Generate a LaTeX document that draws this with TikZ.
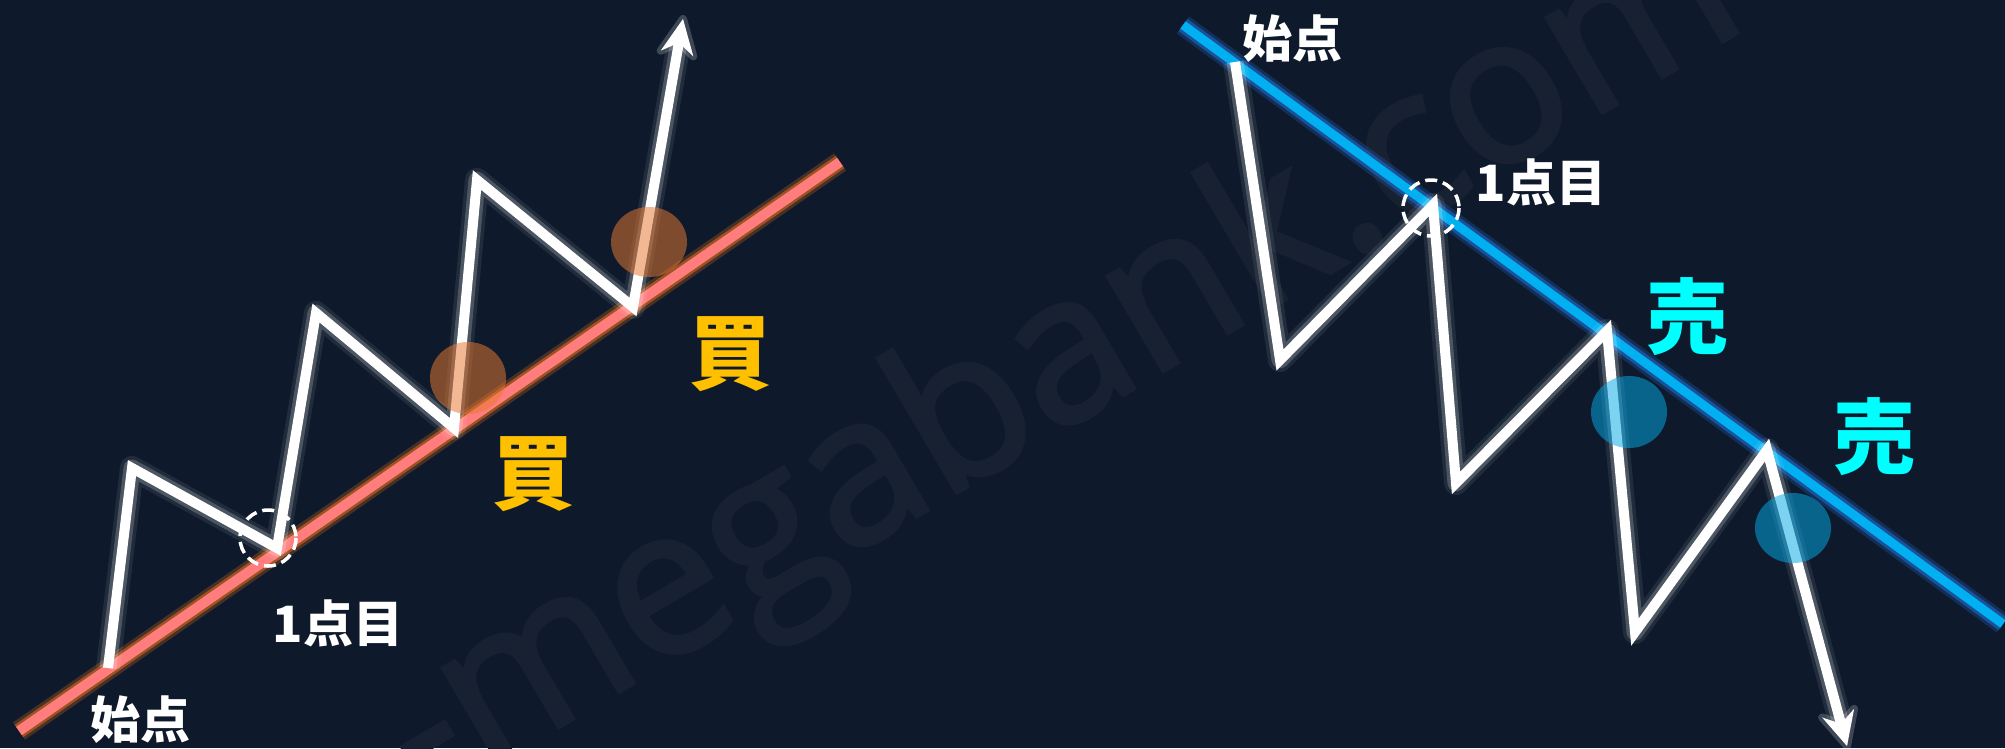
\documentclass[tikz,border=0pt]{standalone}
\usepackage{fontspec}
\newfontfamily\jp{Noto Sans CJK JP}
\newfontfamily\wmfont{Open Sans}[FakeBold=2]
\usetikzlibrary{calc}
\definecolor{bg}{RGB}{14,26,43}
\definecolor{wmark}{RGB}{23,33,49}
\definecolor{upline}{RGB}{255,125,125}
\definecolor{upglow}{RGB}{205,100,30}
\definecolor{dnline}{RGB}{0,176,240}
\definecolor{dnglow}{RGB}{30,100,190}
\definecolor{buy}{RGB}{255,192,0}
\definecolor{sell}{RGB}{0,255,255}
\definecolor{buydot}{RGB}{231,120,49}
\definecolor{selldot}{RGB}{6,168,230}
\begin{document}
\begin{tikzpicture}[x=1pt,y=-1pt,
  glowwide/.style={line width=24pt, white, opacity=0.08, line join=round},
  glownarrow/.style={line width=17pt, white, opacity=0.20, line join=round},
  zig/.style={line width=10pt, white, line join=miter, miter limit=12},
  headfill/.style={fill=white},
  trendglowwide/.style={line width=21pt, opacity=0.30},
  trendglow/.style={line width=15pt, opacity=0.65},
  trend/.style={line width=10pt},
  marker/.style={white, line width=3.5pt, dash pattern=on 12pt off 6pt},
  buydotstyle/.style={fill=buydot, fill opacity=0.52},
  selldotstyle/.style={fill=selldot, fill opacity=0.52},
  lbl/.style={text=white, inner sep=0pt, font=\jp\bfseries\fontsize{50}{50}\selectfont},
  buylbl/.style={text=buy, inner sep=0pt, font=\jp\bfseries\fontsize{82}{82}\selectfont},
  selllbl/.style={text=sell, inner sep=0pt, font=\jp\bfseries\fontsize{82}{82}\selectfont},
  wmstyle/.style={text=wmark, inner sep=0pt, rotate=30.5, font=\wmfont\fontsize{205}{205}\selectfont}
]
\fill[bg] (0,0) rectangle (2005,748);
\useasboundingbox (0,0) rectangle (2005,748);
\begin{scope}
  \clip (0,0) rectangle (2005,748);
  \node[wmstyle] (wm) at (1062,369) {-megabank.com};
\end{scope}

% ---------------- left: rising trend ----------------
\coordinate (RA) at (19,731);
\coordinate (RB) at (840,162);
\coordinate (L0) at (108,668);
\coordinate (L1) at (132,468);
\coordinate (L2) at (277,548);
\coordinate (L3) at (316,313);
\coordinate (L4) at (454,428);
\coordinate (L5) at (477,180);
\coordinate (L6) at (633,307);
\coordinate (LT) at (683,19);
\coordinate (LB) at ($(LT)!35pt!(L6)$);
\coordinate (LN) at ($(LT)!24pt!(L6)$);
\coordinate (LW1) at ($(LB)!16.5pt!90:(LT)$);
\coordinate (LW2) at ($(LB)!16.5pt!-90:(LT)$);

\draw[trendglowwide, upglow] (RA) -- (RB);
\draw[trendglow, upglow] (RA) -- (RB);
\draw[trend, upline] (RA) -- (RB);

\draw[glowwide] (L0) -- (L1) -- (L2) -- (L3) -- (L4) -- (L5) -- (L6) -- (LN);
\draw[glownarrow] (L0) -- (L1) -- (L2) -- (L3) -- (L4) -- (L5) -- (L6) -- (LN);
\draw[glownarrow, line width=8pt, fill=white, fill opacity=0.2] (LT) -- (LW1) -- (LN) -- (LW2) -- cycle;
\draw[zig] (L0) -- (L1) -- (L2) -- (L3) -- (L4) -- (L5) -- (L6) -- (LN);
\fill[headfill] (LT) -- (LW1) -- (LN) -- (LW2) -- cycle;

\fill[buydotstyle] (468,378) ellipse [x radius=38, y radius=36];
\fill[buydotstyle] (649,242) ellipse [x radius=38, y radius=35];
\draw[marker] (268,538) circle [radius=28];

\node[lbl] (ls) at (140,720) {始点};
\node[lbl] (l1) at (338,623) {1点目};
\node[buylbl] (b1) at (533,474) {買};
\node[buylbl] (b2) at (730,354) {買};

% ---------------- right: falling trend ----------------
\coordinate (BA) at (1183,25);
\coordinate (BB) at (2003,624);
\coordinate (R0) at (1235,62);
\coordinate (R1) at (1280,360);
\coordinate (R2) at (1433,205);
\coordinate (R3) at (1456,483);
\coordinate (R4) at (1607,331);
\coordinate (R5) at (1635,632);
\coordinate (R6) at (1767,450);
\coordinate (RT) at (1847,746);
\coordinate (RBk) at ($(RT)!34pt!(R6)$);
\coordinate (RN) at ($(RT)!23pt!(R6)$);
\coordinate (RW1) at ($(RBk)!16.5pt!90:(RT)$);
\coordinate (RW2) at ($(RBk)!16.5pt!-90:(RT)$);

\draw[trendglowwide, dnglow] (BA) -- (BB);
\draw[trendglow, dnglow] (BA) -- (BB);
\draw[trend, dnline, line width=9pt] (BA) -- (BB);

\draw[glowwide] (R0) -- (R1) -- (R2) -- (R3) -- (R4) -- (R5) -- (R6) -- (RN);
\draw[glownarrow] (R0) -- (R1) -- (R2) -- (R3) -- (R4) -- (R5) -- (R6) -- (RN);
\draw[glownarrow, line width=8pt, fill=white, fill opacity=0.2] (RT) -- (RW1) -- (RN) -- (RW2) -- cycle;
\draw[zig] (R0) -- (R1) -- (R2) -- (R3) -- (R4) -- (R5) -- (R6) -- (RN);
\fill[headfill] (RT) -- (RW1) -- (RN) -- (RW2) -- cycle;

\fill[selldotstyle] (1629,412) ellipse [x radius=38, y radius=36];
\fill[selldotstyle] (1793,528) ellipse [x radius=38, y radius=35];
\draw[marker] (1431,208) circle [radius=28];

\node[lbl] (rs) at (1292,39) {始点};
\node[lbl] (r1) at (1541,182) {1点目};
\node[selllbl] (s1) at (1687,317) {売};
\node[selllbl] (s2) at (1874,437) {売};
\end{tikzpicture}
\end{document}
